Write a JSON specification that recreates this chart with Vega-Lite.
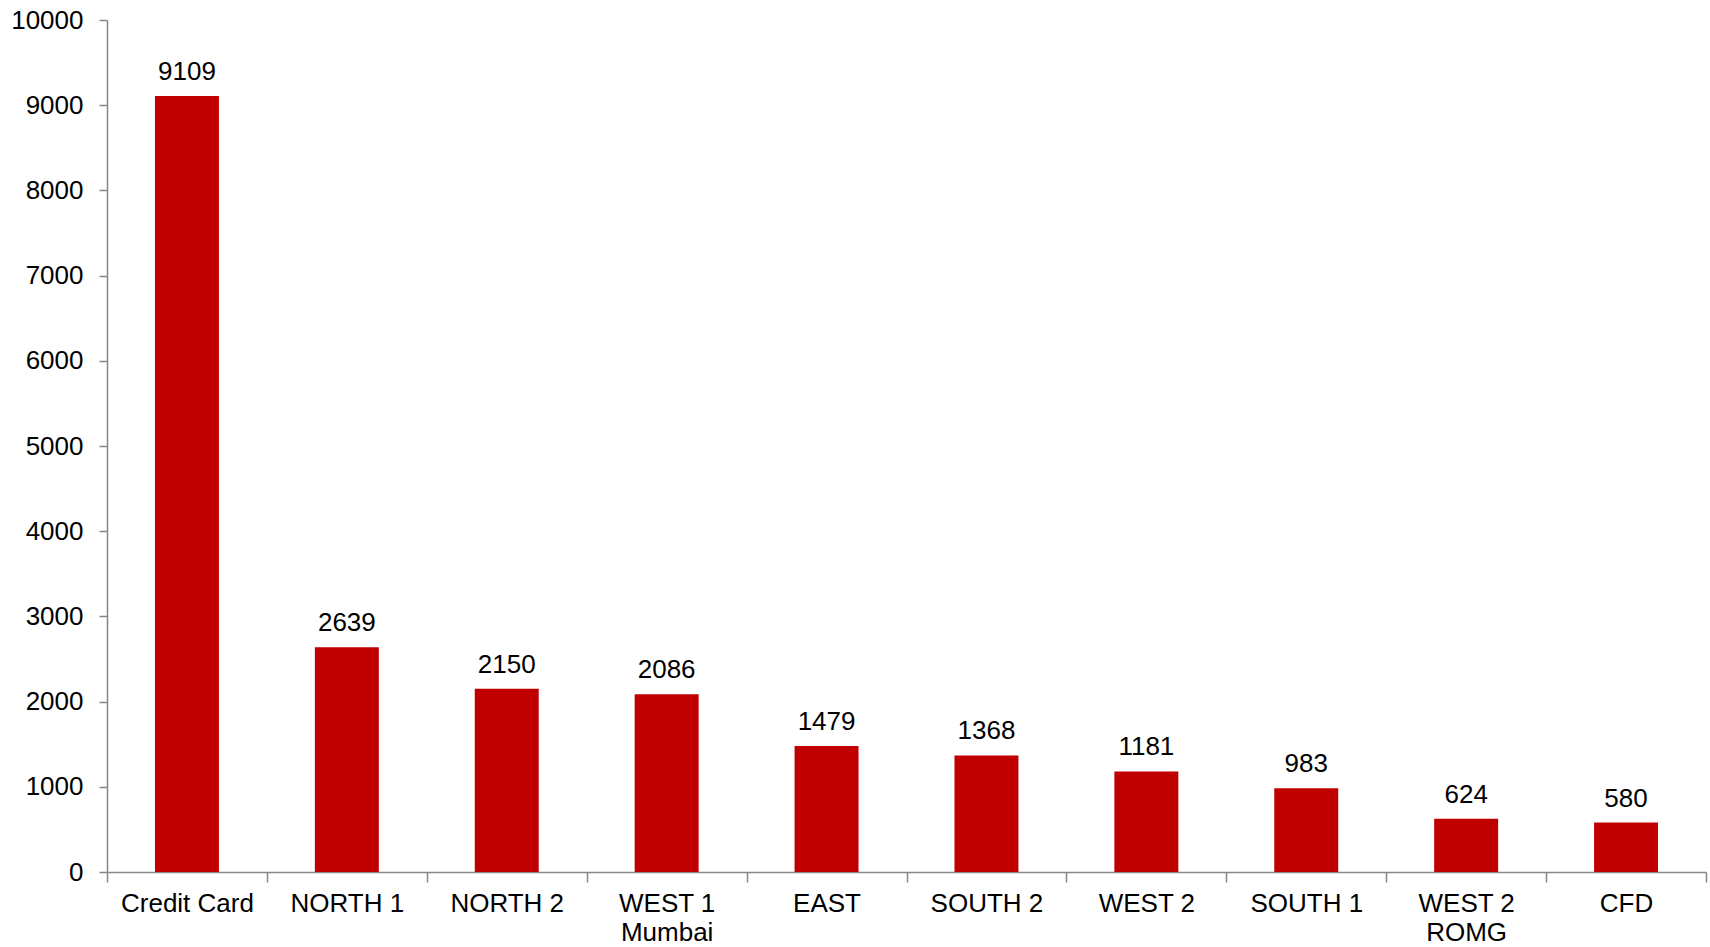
{
  "$schema": "https://vega.github.io/schema/vega-lite/v6.json",
  "width": 1599,
  "height": 852,
  "autosize": "none",
  "padding": {"left": 107, "top": 20, "right": 4, "bottom": 75},
  "background": "white",
  "config": {
    "view": {"stroke": null},
    "font": "Liberation Sans"
  },
  "data": {
    "values": [
      {"region": "Credit Card", "value": 9109},
      {"region": "NORTH 1", "value": 2639},
      {"region": "NORTH 2", "value": 2150},
      {"region": "WEST 1 Mumbai", "value": 2086},
      {"region": "EAST", "value": 1479},
      {"region": "SOUTH 2", "value": 1368},
      {"region": "WEST 2", "value": 1181},
      {"region": "SOUTH 1", "value": 983},
      {"region": "WEST 2 ROMG", "value": 624},
      {"region": "CFD", "value": 580}
    ]
  },
  "encoding": {
    "x": {
      "field": "region",
      "type": "nominal",
      "sort": null,
      "scale": {"paddingInner": 0, "paddingOuter": 0},
      "axis": {
        "title": null,
        "labelAngle": 0,
        "labelFontSize": 26,
        "labelColor": "#000000",
        "labelFont": "Liberation Sans",
        "labelPadding": 8,
        "labelLineHeight": 29,
        "labelExpr": "datum.label == 'WEST 1 Mumbai' ? ['WEST 1', 'Mumbai'] : datum.label == 'WEST 2 ROMG' ? ['WEST 2', 'ROMG'] : datum.label",
        "tickBand": "extent",
        "tickSize": 10,
        "tickColor": "#868686",
        "tickWidth": 1.5,
        "domainColor": "#868686",
        "domainWidth": 1.5,
        "grid": false
      }
    },
    "y": {
      "field": "value",
      "type": "quantitative",
      "scale": {"domain": [0, 10000], "nice": false},
      "axis": {
        "title": null,
        "values": [0, 1000, 2000, 3000, 4000, 5000, 6000, 7000, 8000, 9000, 10000],
        "format": "d",
        "labelFontSize": 26,
        "labelColor": "#000000",
        "labelFont": "Liberation Sans",
        "labelPadding": 16,
        "tickSize": 8,
        "tickColor": "#868686",
        "tickWidth": 1.5,
        "domainColor": "#868686",
        "domainWidth": 1.5,
        "grid": false
      }
    }
  },
  "layer": [
    {
      "mark": {"type": "bar", "color": "#C00000", "width": {"band": 0.4}}
    },
    {
      "mark": {"type": "text", "fontSize": 26, "color": "#000000", "baseline": "alphabetic", "dy": -16, "font": "Liberation Sans"},
      "encoding": {
        "text": {"field": "value", "type": "quantitative", "format": "d"}
      }
    }
  ]
}
